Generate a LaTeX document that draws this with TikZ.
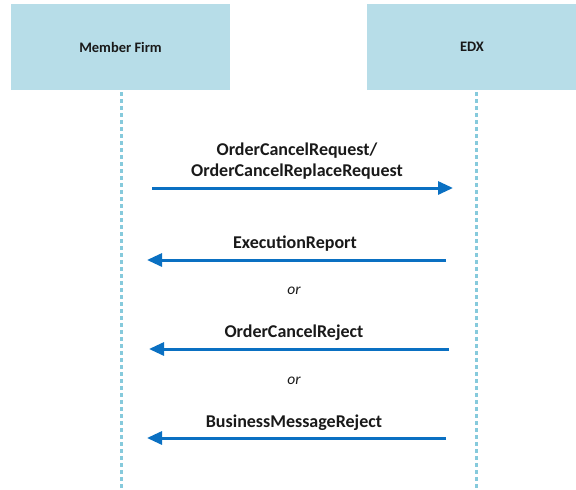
\documentclass[tikz,border=0pt]{standalone}
\usepackage{fontspec}
\setmainfont{Carlito}
\usetikzlibrary{arrows.meta}
\definecolor{boxfill}{HTML}{B7DDE8}
\definecolor{lifeln}{HTML}{86CADC}
\definecolor{msgblue}{HTML}{0A70C2}
\begin{document}
\begin{tikzpicture}[x=1pt,y=-1pt,
  actor/.style={fill=boxfill,draw=none,inner sep=0pt,font=\fontsize{14.5}{17}\selectfont\bfseries,text=black!90},
  lifeline/.style={draw=lifeln,line width=3pt,dash pattern=on 4pt off 3pt},
  msg/.style={draw=msgblue,line width=3pt,-{Triangle[length=15pt,width=13pt]}},
  msglabel/.style={font=\fontsize{18}{21}\selectfont\bfseries,text=black!90,align=center,inner sep=0pt},
  ortext/.style={font=\fontsize{15.5}{18}\selectfont\itshape,text=black!90,inner sep=0pt}]
\useasboundingbox (0,0) rectangle (576,490);
% actors
\node[actor,minimum width=219pt,minimum height=86pt] (mf) at (120.5,47) {Member Firm};
\node[actor,minimum width=210pt,minimum height=86pt] (edx) at (472,47) {EDX};
% lifelines
\coordinate (mfTop) at (121,92);
\coordinate (mfEnd) at (121,490);
\coordinate (edxTop) at (476,92);
\coordinate (edxEnd) at (476,490);
\draw[lifeline] (mfTop) -- (mfEnd);
\draw[lifeline] (edxTop) -- (edxEnd);
% message 1
\coordinate (m1s) at (152,188);
\coordinate (m1e) at (453,188);
\draw[msg] (m1s) -- (m1e);
\node[msglabel] (l1) at (297,161) {OrderCancelRequest/\\OrderCancelReplaceRequest};
% message 2
\coordinate (m2s) at (446,260);
\coordinate (m2e) at (147,260);
\draw[msg] (m2s) -- (m2e);
\node[msglabel] (l2) at (295,244) {ExecutionReport};
\node[ortext] (or1) at (294,291) {or};
% message 3
\coordinate (m3s) at (449,349);
\coordinate (m3e) at (149,349);
\draw[msg] (m3s) -- (m3e);
\node[msglabel] (l3) at (294,333) {OrderCancelReject};
\node[ortext] (or2) at (294,381) {or};
% message 4
\coordinate (m4s) at (446,438);
\coordinate (m4e) at (147,438);
\draw[msg] (m4s) -- (m4e);
\node[msglabel] (l4) at (294,423) {BusinessMessageReject};
\end{tikzpicture}
\end{document}
